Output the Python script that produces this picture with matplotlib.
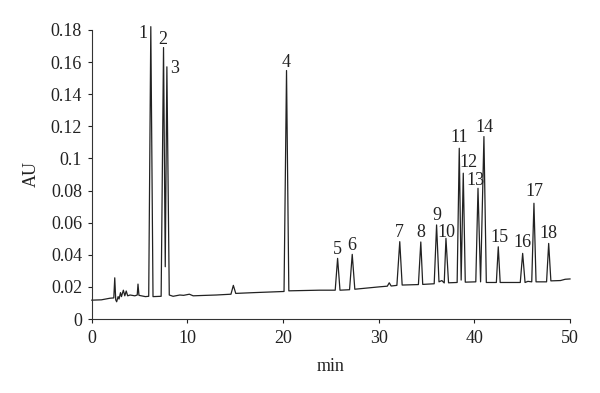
import matplotlib
matplotlib.use("Agg")
import matplotlib.pyplot as plt

# --- chromatogram trace (vertices) ---
trace_min = [0.0, 1.0, 1.9, 2.3, 2.4, 2.5, 2.6, 2.75, 2.85, 3.0, 3.1, 3.3, 3.45, 3.6, 3.75,
             4.0, 4.5, 4.75, 4.83, 4.93, 5.6, 5.95, 6.17, 6.40, 7.25, 7.50, 7.68, 7.85,
             8.10, 8.5, 9.2, 9.6, 10.2, 10.6, 11.5, 13.0, 14.55, 14.8, 15.05, 17.0,
             20.1, 20.36, 20.6, 23.8, 25.45, 25.7, 25.95, 26.95, 27.23, 27.5, 30.1,
             30.9, 31.1, 31.3, 31.9, 32.2, 32.45, 34.15, 34.4, 34.6, 35.8, 36.05, 36.3,
             36.6, 36.85, 37.03, 37.3, 38.2, 38.42, 38.62, 38.84, 39.05, 40.15, 40.38,
             40.65, 41.0, 41.25, 42.3, 42.5, 42.7, 44.8, 45.05, 45.3, 45.6, 46.0, 46.23,
             46.45, 47.55, 47.77, 48.0, 49.0, 49.5, 50.0]
trace_au = [0.0118, 0.0120, 0.0130, 0.0132, 0.0257, 0.0120, 0.0108, 0.0140, 0.0125, 0.0165,
            0.0140, 0.0180, 0.0145, 0.0175, 0.0145, 0.0150, 0.0145, 0.0150, 0.0218, 0.0148,
            0.0140, 0.0142, 0.182, 0.0140, 0.0142, 0.169, 0.0326, 0.157, 0.0150, 0.0142,
            0.0150, 0.0148, 0.0155, 0.0145, 0.0147, 0.0150, 0.0155, 0.0210, 0.0160, 0.0165,
            0.0172, 0.1547, 0.0176, 0.0180, 0.0180, 0.0378, 0.0180, 0.0183, 0.0403, 0.0186,
            0.0201, 0.0205, 0.0226, 0.0206, 0.0210, 0.0482, 0.0212, 0.0215, 0.0480, 0.0216,
            0.0220, 0.0586, 0.0232, 0.0240, 0.0225, 0.0503, 0.0226, 0.0228, 0.1063, 0.0243,
            0.0908, 0.0230, 0.0232, 0.0814, 0.0232, 0.1136, 0.0228, 0.0228, 0.0450, 0.0228,
            0.0228, 0.0409, 0.0228, 0.0235, 0.0232, 0.0721, 0.0232, 0.0232, 0.0471, 0.0238,
            0.0240, 0.0248, 0.0250]

# --- peak numbers ---
peak_labels = [str(i) for i in range(1, 19)]
label_min = [5.3, 7.46, 8.65, 20.36, 25.7, 27.2, 32.2, 34.4, 36.1, 37.1, 38.4, 39.4, 40.1,
             41.1, 42.6, 45.05, 46.3, 47.7]
label_au = [0.178, 0.1743, 0.156, 0.160, 0.0435, 0.046, 0.0536, 0.0542, 0.0642, 0.0542,
            0.113, 0.0972, 0.0862, 0.119, 0.0511, 0.0475, 0.0793, 0.0534]

x_ticks = [0, 10, 20, 30, 40, 50]
y_ticks = [0, 0.02, 0.04, 0.06, 0.08, 0.1, 0.12, 0.14, 0.16, 0.18]
y_tick_labels = ['0', '0.02', '0.04', '0.06', '0.08', '0.1', '0.12', '0.14', '0.16', '0.18']

plt.rcParams['font.family'] = ['Liberation Serif', 'DejaVu Serif']

fig = plt.figure(figsize=(6, 3.93), dpi=100)
ax = fig.add_axes([0.153, 0.188, 0.797, 0.736])

ax.plot(trace_min, trace_au, color='#222222', lw=0.9, clip_on=False)

for lab, x, y in zip(peak_labels, label_min, label_au):
    ax.text(x, y, lab, ha='center', va='center', fontsize=13, color='#222222')

ax.set_xlim(0, 50)
ax.set_ylim(0, 0.18)
ax.set_xticks(x_ticks)
ax.set_yticks(y_ticks)
ax.set_yticklabels(y_tick_labels)
ax.tick_params(axis='both', direction='out', length=3, width=0.8, labelsize=13,
               colors='#222222')
ax.tick_params(axis='x', pad=5)
ax.tick_params(axis='y', pad=4)
for s in ['top', 'right']:
    ax.spines[s].set_visible(False)
for s in ['left', 'bottom']:
    ax.spines[s].set_color('#333333')
    ax.spines[s].set_linewidth(0.8)

ax.set_xlabel('min', fontsize=13, color='#222222', labelpad=8)
ax.set_ylabel('AU', fontsize=13, color='#222222', labelpad=8)

fig.savefig('out.png', dpi=100)
